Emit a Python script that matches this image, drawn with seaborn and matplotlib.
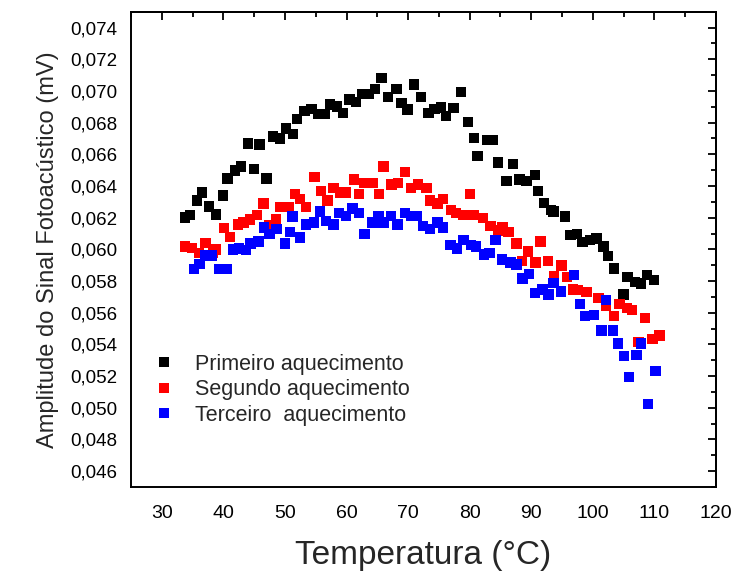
import numpy as np
import pandas as pd
import matplotlib
matplotlib.use("Agg")
import matplotlib.pyplot as plt
import seaborn as sns
from matplotlib.ticker import MultipleLocator, FuncFormatter, NullFormatter

# Primeiro aquecimento (preto)
temp_1 = [33.8, 34.6, 35.7, 36.5, 37.7, 38.8, 39.9, 40.7, 41.9, 42.9,
          44.0, 45.0, 45.9, 47.0, 48.1, 49.2, 50.2, 51.3, 52.0, 53.2,
          54.3, 55.4, 56.4, 57.3, 58.5, 59.4, 60.5, 61.5, 62.6, 63.7,
          64.6, 65.7, 66.7, 68.1, 68.9, 69.9, 71.0, 72.1, 73.3, 74.3,
          75.3, 76.2, 77.4, 78.6, 79.7, 80.7, 81.3, 82.8, 83.8, 84.6,
          86.0, 87.0, 88.1, 89.2, 90.6, 91.1, 92.1, 93.2, 93.6, 95.5,
          96.4, 97.4, 98.3, 99.5, 100.6, 101.7, 102.5, 103.4, 105.0, 105.6,
          106.8, 107.8, 108.8, 109.9]
amp_1 = [0.0620, 0.06218, 0.06308, 0.0636, 0.0627, 0.0622, 0.0634, 0.06447, 0.06498, 0.06522,
         0.06669, 0.06509, 0.06661, 0.06447, 0.06713, 0.06699, 0.06762, 0.06728, 0.06821, 0.06872,
         0.06884, 0.06853, 0.06853, 0.06914, 0.06901, 0.06859, 0.06945, 0.06930, 0.06981, 0.06981,
         0.07011, 0.07082, 0.06960, 0.07011, 0.06924, 0.06882, 0.07040, 0.06960, 0.06859, 0.06884,
         0.06895, 0.06840, 0.06892, 0.06992, 0.06802, 0.06701, 0.06591, 0.06692, 0.06692, 0.06549,
         0.06430, 0.06540, 0.06441, 0.06433, 0.06471, 0.06370, 0.06294, 0.06247, 0.06240, 0.06207,
         0.06091, 0.06097, 0.06047, 0.06059, 0.06068, 0.06017, 0.05958, 0.05878, 0.05715, 0.05825,
         0.05794, 0.05785, 0.05838, 0.05806]

# Segundo aquecimento (vermelho)
temp_2 = [33.8, 34.9, 36.0, 37.1, 38.3, 38.8, 40.1, 41.1, 42.4, 43.3,
          44.3, 45.5, 46.5, 47.5, 48.5, 49.3, 50.6, 51.6, 52.4, 53.4,
          54.8, 55.9, 56.9, 57.9, 59.0, 59.9, 61.2, 62.0, 62.8, 64.2,
          65.3, 66.0, 67.3, 68.4, 69.5, 70.5, 71.6, 73.0, 73.6, 74.8,
          75.7, 77.0, 77.8, 79.0, 80.1, 80.6, 82.2, 83.4, 84.6, 85.3,
          86.3, 87.6, 88.5, 89.5, 90.7, 91.5, 92.7, 93.7, 94.9, 95.8,
          96.8, 97.6, 99.0, 100.9, 102.1, 103.4, 104.3, 105.5, 106.4, 107.4,
          108.5, 109.7, 110.8]
amp_2 = [0.06017, 0.06009, 0.05977, 0.06041, 0.05977, 0.0600, 0.06136, 0.06079, 0.06158, 0.06169,
         0.06188, 0.06218, 0.06289, 0.06154, 0.06188, 0.06268, 0.06268, 0.06351, 0.06319, 0.06268,
         0.06458, 0.06370, 0.06308, 0.06389, 0.06359, 0.06359, 0.06441, 0.06351, 0.06420, 0.06420,
         0.06351, 0.06522, 0.06409, 0.06420, 0.06490, 0.06389, 0.06409, 0.06389, 0.06308, 0.06289,
         0.06319, 0.06249, 0.06230, 0.06218, 0.06351, 0.06218, 0.06199, 0.06148, 0.06118, 0.06139,
         0.06108, 0.06038, 0.05927, 0.05987, 0.05916, 0.06049, 0.05927, 0.05833, 0.05897, 0.05825,
         0.05747, 0.05743, 0.05732, 0.05692, 0.05642, 0.05578, 0.05656, 0.05629, 0.05616, 0.05416,
         0.05568, 0.05435, 0.05456]

# Terceiro aquecimento (azul)
temp_3 = [35.2, 36.1, 37.1, 38.2, 39.4, 40.6, 41.6, 42.5, 43.7, 44.4,
          45.7, 46.6, 47.5, 48.6, 50.0, 50.8, 51.2, 52.4, 53.4, 54.7,
          55.7, 56.7, 57.9, 58.8, 59.9, 61.0, 62.0, 62.9, 64.2, 65.2,
          66.0, 67.2, 68.3, 69.5, 70.5, 71.4, 72.4, 73.6, 74.8, 75.7,
          76.9, 77.9, 79.0, 80.2, 81.0, 82.3, 83.2, 84.2, 85.2, 86.6,
          87.6, 88.6, 89.6, 90.6, 91.8, 92.8, 93.6, 94.8, 96.9, 97.9,
          98.7, 100.2, 101.4, 102.1, 103.3, 104.1, 105.1, 105.9, 107.1, 107.8,
          109.0, 110.2]
amp_3 = [0.05876, 0.05908, 0.05960, 0.05960, 0.05876, 0.05876, 0.05998, 0.06006, 0.05996, 0.06038,
         0.06049, 0.06139, 0.06097, 0.06127, 0.06038, 0.06108, 0.06207, 0.06076, 0.06158, 0.06169,
         0.06240, 0.06180, 0.06158, 0.06230, 0.06209, 0.06259, 0.06230, 0.06097, 0.06169, 0.06209,
         0.06169, 0.06209, 0.06158, 0.06230, 0.06209, 0.06209, 0.06148, 0.06129, 0.06169, 0.06137,
         0.06028, 0.06006, 0.06059, 0.06028, 0.06017, 0.05967, 0.05977, 0.06059, 0.05937, 0.05916,
         0.05905, 0.05817, 0.05846, 0.05724, 0.05747, 0.05715, 0.05787, 0.05734, 0.05838, 0.05656,
         0.05578, 0.05587, 0.05487, 0.05680, 0.05487, 0.05405, 0.05325, 0.05194, 0.05335, 0.05405,
         0.05023, 0.05232]

series_names = ["Primeiro aquecimento", "Segundo aquecimento", "Terceiro  aquecimento"]
series_colors = ["#000000", "#ff0000", "#0000ff"]

df = pd.concat([
    pd.DataFrame({"temp": temp_1, "amp": amp_1, "serie": series_names[0]}),
    pd.DataFrame({"temp": temp_2, "amp": amp_2, "serie": series_names[1]}),
    pd.DataFrame({"temp": temp_3, "amp": amp_3, "serie": series_names[2]}),
], ignore_index=True)

sns.set_theme(style="white")
plt.rcParams["font.family"] = ["Liberation Sans", "DejaVu Sans"]

fig = plt.figure(figsize=(7.33, 5.71), dpi=100)
ax = fig.add_axes([0.1787, 0.1471, 0.7981, 0.8324])

sns.scatterplot(data=df, x="temp", y="amp", hue="serie", palette=series_colors,
                hue_order=series_names, marker="s", s=56, linewidth=0, ax=ax)

ax.set_xlim(25, 120)
ax.set_ylim(0.045, 0.075)
ax.xaxis.set_major_locator(MultipleLocator(10))
ax.xaxis.set_minor_locator(MultipleLocator(5))
ax.yaxis.set_major_locator(MultipleLocator(0.002))
ax.yaxis.set_minor_locator(MultipleLocator(0.001))
ax.yaxis.set_major_formatter(FuncFormatter(lambda v, p: f"{v:.3f}".replace(".", ",")))
ax.set_xticks([x for x in range(30, 121, 10)])

for sp in ax.spines.values():
    sp.set_color("black")
    sp.set_linewidth(1.4)

ax.tick_params(axis="both", which="both", colors="black", width=1.3,
               labelsize=13.5, direction="out", pad=4)
ax.tick_params(axis="x", which="both", labelsize=14, pad=7)
ax.tick_params(axis="both", which="major", length=6)
ax.tick_params(axis="both", which="minor", length=3.5)

# eixos espelhados (topo e direita) com ticks para dentro
top = ax.secondary_xaxis("top")
top.xaxis.set_major_locator(MultipleLocator(10))
top.xaxis.set_minor_locator(MultipleLocator(5))
top.xaxis.set_major_formatter(NullFormatter())
right = ax.secondary_yaxis("right")
right.yaxis.set_major_locator(MultipleLocator(0.002))
right.yaxis.set_minor_locator(MultipleLocator(0.001))
right.yaxis.set_major_formatter(NullFormatter())
for sec in (top, right):
    sec.tick_params(which="both", direction="in", width=1.3, colors="black")
    sec.tick_params(which="major", length=6)
    sec.tick_params(which="minor", length=3.5)
    for sp in sec.spines.values():
        sp.set_linewidth(1.4)
        sp.set_color("black")

ax.set_xlabel("Temperatura (°C)", fontsize=24, labelpad=13)
ax.set_ylabel("Amplitude do Sinal Fotoacústico (mV)", fontsize=17, labelpad=8)

handles, labels = ax.get_legend_handles_labels()
ax.legend(handles, labels, loc="upper left", bbox_to_anchor=(0.005, 0.298),
          frameon=False, fontsize=15.5, handletextpad=0.45, labelspacing=0.2,
          markerscale=1.0, borderaxespad=0)

fig.savefig("out.png", dpi=100)
